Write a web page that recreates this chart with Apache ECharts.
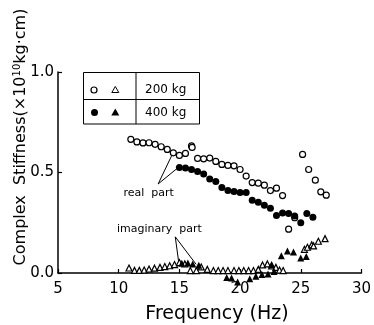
<!DOCTYPE html>
<html>
<head>
<meta charset="utf-8">
<script src="https://cdn.jsdelivr.net/npm/echarts/dist/echarts.min.js"></script>
<style>
html, body { margin: 0; padding: 0; background: #fff; }
#chart { width: 374px; height: 325px; }
</style>
</head>
<body>
<div id="chart"></div>
<script>
// Frequency axis (Hz) and stiffness axis (x10^10 kg·cm)
const xTicks = [5, 10, 15, 20, 25, 30];
const yTicks = [0.0, 0.5, 1.0];

// Real part, 200 kg (open circles)
const real200Freq = [11.0, 11.5, 12.0, 12.5, 13.0, 13.5, 14.0, 14.5, 15.0, 15.5, 16.0, 16.05, 16.5, 17.0, 17.5, 18.0, 18.5, 19.0, 19.5, 20.0, 20.5, 21.0, 21.5, 22.0, 22.5, 23.0, 23.5, 24.0, 24.5, 25.15, 25.65, 26.2, 26.65, 27.1];
const real200Val  = [0.665, 0.652, 0.647, 0.648, 0.640, 0.628, 0.615, 0.598, 0.585, 0.595, 0.632, 0.625, 0.570, 0.568, 0.572, 0.555, 0.540, 0.535, 0.533, 0.515, 0.482, 0.450, 0.447, 0.437, 0.410, 0.422, 0.385, 0.218, 0.275, 0.590, 0.515, 0.462, 0.404, 0.387];

// Real part, 400 kg (filled circles)
const real400Freq = [15.0, 15.5, 16.0, 16.5, 17.0, 17.5, 18.0, 18.5, 19.0, 19.5, 20.0, 20.5, 21.0, 21.5, 22.0, 22.5, 23.0, 23.5, 24.0, 24.5, 25.0, 25.5, 26.0];
const real400Val  = [0.525, 0.522, 0.515, 0.505, 0.492, 0.468, 0.455, 0.425, 0.410, 0.405, 0.400, 0.400, 0.362, 0.352, 0.337, 0.322, 0.286, 0.299, 0.296, 0.283, 0.250, 0.296, 0.277];

// Imaginary part, 200 kg (open triangles)
const imag200Freq = [10.85, 11.3, 11.7, 12.1, 12.5, 12.95, 13.4, 13.8, 14.2, 14.6, 15.0, 15.45, 15.9, 16.4, 16.8, 17.3, 17.8, 18.2, 18.6, 19.0, 19.5, 19.9, 20.3, 20.7, 21.1, 21.5, 21.85, 22.25, 22.6, 22.95, 23.25, 23.55, 25.3, 25.55, 25.9, 26.05, 26.45, 27.0];
const imag200Val  = [0.025, 0.013, 0.013, 0.015, 0.020, 0.024, 0.028, 0.032, 0.036, 0.042, 0.052, 0.045, 0.012, 0.012, 0.030, 0.018, 0.012, 0.012, 0.012, 0.012, 0.012, 0.012, 0.012, 0.012, 0.012, 0.018, 0.040, 0.045, 0.035, 0.028, 0.015, 0.012, 0.118, 0.128, 0.140, 0.135, 0.158, 0.171];

// Imaginary part, 400 kg (filled triangles)
const imag400Freq = [15.2, 15.7, 16.1, 16.6, 18.9, 19.3, 19.8, 20.8, 21.3, 21.8, 22.3, 22.6, 22.8, 23.4, 23.9, 24.4, 25.0, 25.45];
const imag400Val  = [0.048, 0.050, 0.045, 0.038, -0.022, -0.025, -0.045, -0.028, -0.016, -0.008, -0.005, 0.042, 0.008, 0.086, 0.110, 0.104, 0.075, 0.082];

// Leader lines for the two callouts, in data units
const realLeaders = [[[13.25, 0.443], [14.35, 0.582]], [[13.25, 0.443], [14.85, 0.522]]];
const imagLeaders = [[[14.66, 0.180], [14.93, 0.060]], [[14.66, 0.180], [16.38, 0.043]]];
const realLabelAt = [12.53, 0.392];
const imagLabelAt = [13.57, 0.212];

const FONT = 'DejaVu Sans';
const pair = (xs, ys) => xs.map((x, i) => [x, ys[i]]);
const toMarkLine = segs => segs.map(s => [{ coord: s[0] }, { coord: s[1] }]);

const openStyle = { color: '#fff', borderColor: '#000', borderWidth: 1.2, opacity: 1 };
const fillStyle = { color: '#000', borderColor: '#000', borderWidth: 0, opacity: 1 };

const chart = echarts.init(document.getElementById('chart'), null, { renderer: 'canvas' });

chart.setOption({
  animation: false,
  backgroundColor: '#fff',
  grid: { left: 58, right: 11, top: 72, bottom: 52 },
  xAxis: {
    type: 'value', min: xTicks[0], max: xTicks[xTicks.length - 1], interval: 5,
    axisLine: { lineStyle: { color: '#000', width: 1.5 } },
    axisTick: { inside: true, length: 4, lineStyle: { color: '#000', width: 1.2 } },
    axisLabel: { color: '#000', fontFamily: FONT, fontSize: 15, margin: 9 },
    splitLine: { show: false }
  },
  yAxis: {
    type: 'value', min: yTicks[0], max: yTicks[yTicks.length - 1], interval: 0.5,
    axisLine: { show: true, lineStyle: { color: '#000', width: 1.5 } },
    axisTick: { show: true, inside: true, length: 4, lineStyle: { color: '#000', width: 1.2 } },
    axisLabel: { color: '#000', fontFamily: FONT, fontSize: 15, margin: 4,
      formatter: v => v.toFixed(1) },
    splitLine: { show: false }
  },
  series: [
    { type: 'scatter', name: '200 kg real', data: pair(real200Freq, real200Val),
      symbol: 'circle', symbolSize: 6, itemStyle: openStyle, clip: false, z: 3,
      markLine: { silent: true, symbol: 'none', label: { show: false },
        lineStyle: { color: '#000', width: 1, type: 'solid', opacity: 1 }, data: toMarkLine(realLeaders) } },
    { type: 'scatter', name: '400 kg real', data: pair(real400Freq, real400Val),
      symbol: 'circle', symbolSize: 7, itemStyle: fillStyle, clip: false, z: 3 },
    { type: 'scatter', name: '200 kg imaginary', data: pair(imag200Freq, imag200Val),
      symbol: 'triangle', symbolSize: 6, itemStyle: openStyle, clip: false, z: 3,
      markLine: { silent: true, symbol: 'none', label: { show: false },
        lineStyle: { color: '#000', width: 1, type: 'solid', opacity: 1 }, data: toMarkLine(imagLeaders) } },
    { type: 'scatter', name: '400 kg imaginary', data: pair(imag400Freq, imag400Val),
      symbol: 'triangle', symbolSize: 7, itemStyle: fillStyle, clip: false, z: 3 }
  ]
});

// Callout texts, axis titles and the boxed key
const rp = chart.convertToPixel({ gridIndex: 0 }, realLabelAt);
const ip = chart.convertToPixel({ gridIndex: 0 }, imagLabelAt);
const txt = { fill: '#000', fontFamily: FONT };

chart.setOption({
  graphic: [
    { type: 'text', left: rp[0] - 26, top: rp[1] - 7,
      style: Object.assign({ text: 'real  part', fontSize: 11 }, txt) },
    { type: 'text', left: ip[0] - 45, top: ip[1] - 7,
      style: Object.assign({ text: 'imaginary  part', fontSize: 11 }, txt) },
    { type: 'text', x: 217, y: 314, style: Object.assign({ text: 'Frequency (Hz)', fontSize: 19,
      align: 'center', verticalAlign: 'middle' }, txt) },
    { type: 'text', x: 21, y: 137, rotation: Math.PI / 2,
      style: Object.assign({
        text: 'Complex  Stiffness(×10{sup|10}kg·cm)', fontSize: 16,
        align: 'center', verticalAlign: 'middle',
        rich: { sup: { fontSize: 10, verticalAlign: 'top', padding: [0, 0, 8, 0], fontFamily: FONT, fill: '#000' } }
      }, txt) },
    // key table
    { type: 'rect', shape: { x: 83.5, y: 72.5, width: 116, height: 51.5 },
      style: { fill: '#fff', stroke: '#000', lineWidth: 1 }, z: 10 },
    { type: 'line', shape: { x1: 136, y1: 72.5, x2: 136, y2: 124 },
      style: { stroke: '#000', lineWidth: 1 }, z: 11 },
    { type: 'line', shape: { x1: 83.5, y1: 99.5, x2: 199.5, y2: 99.5 },
      style: { stroke: '#000', lineWidth: 1 }, z: 11 },
    { type: 'circle', shape: { cx: 94, cy: 90, r: 3 },
      style: { fill: '#fff', stroke: '#000', lineWidth: 1.2 }, z: 11 },
    { type: 'polygon', shape: { points: [[115.3, 86.5], [118.8, 92.5], [111.8, 92.5]] },
      style: { fill: '#fff', stroke: '#000', lineWidth: 1 }, z: 11 },
    { type: 'circle', shape: { cx: 94.5, cy: 112.5, r: 3.5 },
      style: { fill: '#000' }, z: 11 },
    { type: 'polygon', shape: { points: [[115.3, 108.5], [119.3, 115.5], [111.3, 115.5]] },
      style: { fill: '#000' }, z: 11 },
    { type: 'text', x: 145, y: 90, z: 11,
      style: Object.assign({ text: '200 kg', fontSize: 12, verticalAlign: 'middle' }, txt) },
    { type: 'text', x: 145, y: 112.5, z: 11,
      style: Object.assign({ text: '400 kg', fontSize: 12, verticalAlign: 'middle' }, txt) }
  ]
});
</script>
</body>
</html>
